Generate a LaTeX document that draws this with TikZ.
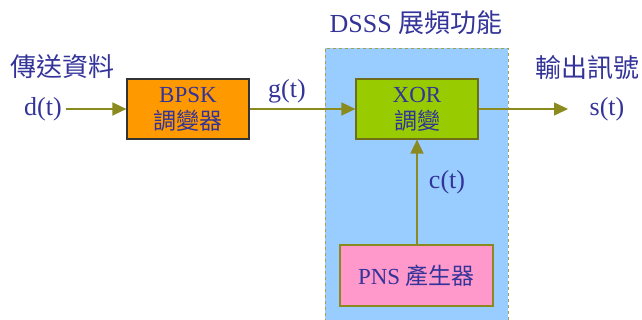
\documentclass[tikz,border=0pt]{standalone}
\usepackage{fontspec}
\setmainfont{Liberation Serif}
\newfontfamily\cjk{Noto Sans CJK TC}
\usetikzlibrary{arrows.meta}
\definecolor{txt}{HTML}{333399}
\definecolor{lineol}{HTML}{8A8A1E}
\definecolor{bluebg}{HTML}{99CCFF}
\definecolor{orangef}{HTML}{FF9900}
\definecolor{greenf}{HTML}{99CC00}
\definecolor{pinkf}{HTML}{FF99CC}
\tikzset{
  lbl/.style={text=txt, font=\fontsize{26}{30}\selectfont, inner sep=0pt},
  blockbox/.style={draw=#1, line width=1.2pt, text=txt, font=\fontsize{23}{26}\selectfont, align=center, inner sep=0pt},
  sig/.style={draw=lineol, line width=1.5pt, -{Triangle[length=14pt,width=13pt]}},
}
\begin{document}
\begin{tikzpicture}[x=1pt,y=-1pt]
\useasboundingbox (0,0) rectangle (642,320);
% DSSS region
\fill[bluebg] (325,48) rectangle (508,322);
\draw[draw=lineol!80, dashed, line width=0.8pt] (325,322) -- (325,48) -- (508,48) -- (508,322);
% blocks
\node[blockbox=black!80, fill=orangef, minimum width=122pt, minimum height=60pt] (bpsk) at (188,109) {BPSK\\[1pt]{\cjk 調變器}};
\node[blockbox=lineol!80!black, fill=greenf, minimum width=122pt, minimum height=60pt] (xor) at (417,109) {XOR\\[1pt]{\cjk 調變}};
\node[blockbox=lineol, fill=pinkf, minimum width=153pt, minimum height=61pt] (pns) at (416.5,275.5) {PNS {\cjk 產生器}};
% labels
\node[lbl] (src) at (62,67) {\cjk 傳送資料};
\node[lbl] (din) at (43,109) {d(t)};
\node[lbl] (gt) at (287,91) {g(t)};
\node[lbl] (dsss) at (416,23) {DSSS {\cjk 展頻功能}};
\node[lbl] (outl) at (587,68) {\cjk 輸出訊號};
\node[lbl] (sout) at (607,109) {s(t)};
\node[lbl] (ct) at (447,182) {c(t)};
\coordinate (dstart) at (66,109);
\coordinate (send) at (568,109);
% connectors
\draw[sig] (dstart) -- (bpsk.west);
\draw[sig] (bpsk.east) -- (xor.west);
\draw[sig] (xor.east) -- (send);
\draw[sig] (pns.north -| xor.south) -- (xor.south);
\end{tikzpicture}
\end{document}
